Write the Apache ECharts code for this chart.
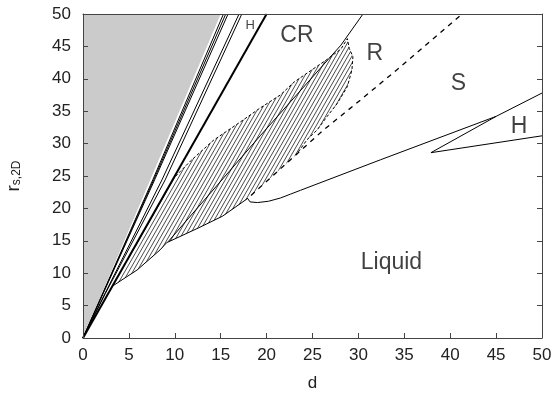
<!DOCTYPE html>
<html><head><meta charset="utf-8">
<script src="https://cdn.jsdelivr.net/npm/echarts@6/dist/echarts.min.js"></script>
<style>html,body{margin:0;padding:0;background:#fff}#c{width:555px;height:400px}</style>
</head><body><div id="c"></div>
<script>
// ---- data (d, r_s,2D) ----
const xTickValues = [0,5,10,15,20,25,30,35,40,45,50];
const yTickValues = [0,5,10,15,20,25,30,35,40,45,50];
const grayRegion = [[0,0],[0,50],[15.0,50]];
const fanLine1 = [[0,0],[7.6,24.4],[15.3,50]];
const fanLine2 = [[0,0],[7.7,24.4],[15.55,50]];
const fanLine3 = [[0,0],[7.8,24.4],[15.8,50]];
const fanLine4 = [[0,0],[2.4,6.9],[8.6,24.4],[17.0,50]];
const fanLine5 = [[0,0],[2.45,6.9],[8.95,24.4],[17.3,50]];
const thickLine = [[0,0],[20,50]];
const hatchRegion = [[3.2,8.0],[5.9,10.5],[8.4,13.6],[9.1,14.7],[12.6,17.0],[15.2,18.8],[17.9,21.5],[18.3,22.0],[20.8,25.2],[23.3,28.4],[24.4,30.6],[25.5,32.1],[26.6,34.2],[27.7,36.2],[28.8,38.8],[29.3,41.4],[29.4,43.4],[29.0,44.7],[28.8,46.2],[28.1,44.6],[26.6,43.0],[23.0,39.5],[21.5,37.5],[19.3,35.5],[17.1,33.3],[14.2,30.5],[11.7,27.3],[10.6,25.7],[9.7,24.4],[9.1,22.8],[7.3,18.3],[3.2,8.0]];
const hatchLowerSolid = [[3.2,8.0],[5.9,10.5],[8.4,13.6],[9.1,14.7],[12.6,17.0],[15.2,18.8],[17.9,21.5]];
const hatchUpperDashed = [[9.7,24.4],[10.6,25.7],[11.7,27.3],[14.2,30.5],[17.1,33.3],[19.3,35.5],[21.5,37.5],[23.0,39.5],[26.6,43.0],[28.1,44.6],[28.8,46.2],[29.0,44.7],[29.4,43.4],[29.3,41.4],[28.8,38.8],[27.7,36.2],[26.6,34.2],[25.5,32.1],[24.4,30.6],[23.3,28.4]];
const centerLine = [[9.3,14.9],[19.3,31.2],[28.1,45.2],[30.5,50]];
const rsDashed = [[18.3,22.0],[20.8,25.2],[23.3,28.4],[26.2,32.1],[30.2,36.7],[34.2,41.4],[41.3,50]];
const liquidLine = [[17.9,21.6],[18.2,21.0],[19.0,20.9],[20.2,21.1],[21.5,21.6],[22.6,22.2],[23.7,22.8],[32.4,27.5],[45,34.2],[50,37.8]];
const hLine = [[45,34.2],[37.9,28.6],[50,31.2]];
const labelTexts = ['CR','R','S','H','H','Liquid'];
const labelD = [23.3,31.8,40.9,47.5,18.2,33.6];
const labelR = [46.6,43.9,39.2,32.6,48.25,11.6];
const labelSizes = [23,23,23,23,13,23];

const FONT = '"Liberation Sans", Arial, sans-serif';

// hatch pattern tile
function makeHatch(){
  const W=16,H=28,c=document.createElement('canvas');
  c.width=W;c.height=H;
  const g=c.getContext('2d');
  g.strokeStyle='#4a4a4a';g.lineWidth=1;
  for(let k=-8;k<=8;k++){
    g.beginPath();g.moveTo(k*4,H);g.lineTo(k*4+W,0);g.stroke();
  }
  return c;
}
const hatchCanvas = makeHatch();

function polySeries(points, fill, z){
  return {type:'custom',coordinateSystem:'cartesian2d',data:[0],silent:true,z:z,
    renderItem:function(params,api){
      return {type:'polygon',shape:{points:points.map(p=>api.coord(p))},style:{fill:fill,stroke:null}};
    }};
}
function lineSeries(points,width,type,dash){
  return {type:'line',data:points,showSymbol:false,symbol:'none',silent:true,z:4,
    lineStyle:{color:'#000',width:width,type:dash?dash:type},animation:false};
}

const chart = echarts.init(document.getElementById('c'),null,{renderer:'canvas'});
const axisColor='#444';
chart.setOption({
  animation:false,
  backgroundColor:'#fff',
  grid:{left:83,right:13,top:14,bottom:62,show:false,containLabel:false,outerBoundsMode:'none'},
  xAxis:[{type:'value',min:0,max:50,interval:5,position:'bottom',z:10,
    axisLine:{show:true,onZero:false,lineStyle:{color:axisColor,width:1}},
    axisTick:{show:true,inside:true,length:5,lineStyle:{color:axisColor}},
    axisLabel:{fontSize:17,color:'#222',margin:9,fontFamily:FONT,
      formatter:v=>xTickValues.indexOf(v)>=0?String(v):''},
    splitLine:{show:false},
    name:'d',nameLocation:'middle',nameGap:37,nameTextStyle:{fontSize:17,color:'#222',fontFamily:FONT}},
   {type:'value',min:0,max:50,interval:5,position:'top',z:10,
    axisLine:{show:true,onZero:false,lineStyle:{color:axisColor,width:1}},
    axisTick:{show:false},axisLabel:{show:false},splitLine:{show:false}}],
  yAxis:[{type:'value',min:0,max:50,interval:5,position:'left',z:10,
    axisLine:{show:true,onZero:false,lineStyle:{color:axisColor,width:1}},
    axisTick:{show:true,inside:true,length:5,lineStyle:{color:axisColor}},
    axisLabel:{fontSize:17,color:'#222',margin:12,fontFamily:FONT,
      formatter:v=>yTickValues.indexOf(v)>=0?String(v):''},
    splitLine:{show:false},
    name:'{a|r}{b|s,2D}',nameLocation:'middle',nameGap:60,nameRotate:90,
    nameTextStyle:{fontFamily:FONT,color:'#222',rich:{
      a:{fontSize:19,fontFamily:FONT,color:'#222',lineHeight:19,verticalAlign:'top'},
      b:{fontSize:12,fontFamily:FONT,color:'#222',lineHeight:12,padding:[9,0,0,0],verticalAlign:'bottom'}}}},
   {type:'value',min:0,max:50,interval:5,position:'right',z:10,
    axisLine:{show:true,onZero:false,lineStyle:{color:axisColor,width:1}},
    axisTick:{show:true,inside:true,length:5,lineStyle:{color:axisColor}},
    axisLabel:{show:false},splitLine:{show:false}}],
  series:[
    polySeries(grayRegion,'#cbcbcb',1),
    polySeries(hatchRegion,{image:hatchCanvas,repeat:'repeat'},2),
    lineSeries(fanLine1,1,'solid'),
    lineSeries(fanLine2,1,'solid'),
    lineSeries(fanLine3,1,'solid'),
    lineSeries(fanLine4,1,'solid'),
    lineSeries(fanLine5,1,'solid'),
    lineSeries(thickLine,2,'solid'),
    lineSeries(hatchLowerSolid,1,'solid'),
    lineSeries(hatchUpperDashed,1,'dashed',[3,2]),
    lineSeries(centerLine,1,'solid'),
    lineSeries(rsDashed,1.3,'dashed',[5,5]),
    lineSeries(liquidLine,1,'solid'),
    lineSeries(hLine,1,'solid'),
    {type:'scatter',symbolSize:0,silent:true,z:6,
      data:labelTexts.map((t,i)=>({value:[labelD[i],labelR[i]],name:t,
        label:{show:true,position:'inside',formatter:t,fontSize:labelSizes[i],color:'#111',fontFamily:FONT}}))}
  ]
});
</script></body></html>
